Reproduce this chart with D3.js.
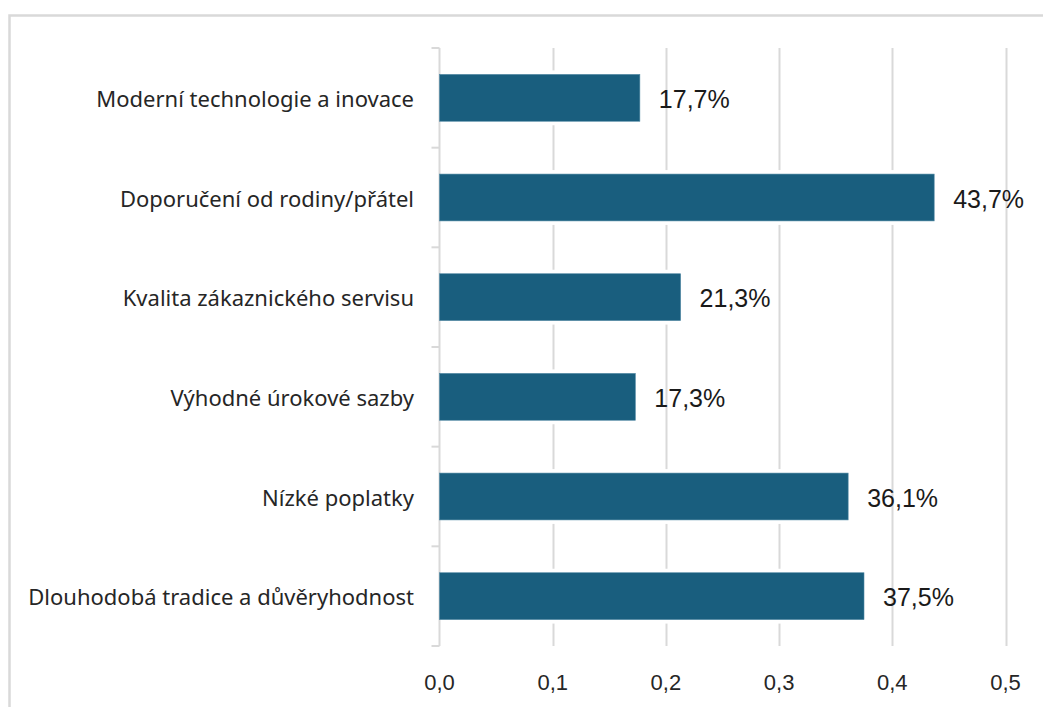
<!DOCTYPE html>
<html>
<head>
<meta charset="utf-8">
<script src="https://cdn.jsdelivr.net/npm/d3@7"></script>
<style>
  html, body { margin: 0; padding: 0; background: #ffffff; }
  svg { display: block; }
</style>
</head>
<body>
<svg id="chart" width="1043" height="707"></svg>
<script>
// Survey answers: share of respondents per factor (fraction of 1)
const categories = [
  "Moderní technologie a inovace",
  "Doporučení od rodiny/přátel",
  "Kvalita zákaznického servisu",
  "Výhodné úrokové sazby",
  "Nízké poplatky",
  "Dlouhodobá tradice a důvěryhodnost"
];
const values = [0.177, 0.437, 0.213, 0.173, 0.361, 0.375];
const valueLabels = ["17,7%", "43,7%", "21,3%", "17,3%", "36,1%", "37,5%"];
const xTicks = [0, 0.1, 0.2, 0.3, 0.4, 0.5];

const svg = d3.select("#chart");
const W = 1043, H = 707;
const plot = { left: 439.5, right: 1005.5, top: 48, bottom: 646 };

const barColor = "#195e7e";
const gridColor = "#d9d9d9";
const textColor = "#262626";

// Outer frame
svg.append("rect")
  .attr("x", 9.5).attr("y", 15.5)
  .attr("width", W + 10).attr("height", H + 10)
  .attr("fill", "none")
  .attr("stroke", "#d9d9d9")
  .attr("stroke-width", 2.5);

const x = d3.scaleLinear().domain([0, 0.5]).range([plot.left, plot.right]);
const y = d3.scaleBand()
  .domain(categories)
  .range([plot.top, plot.bottom])
  .paddingInner(0.53)
  .paddingOuter(0.265);

// Vertical gridlines
svg.append("g")
  .selectAll("line")
  .data(xTicks.slice(1))
  .join("line")
  .attr("x1", d => Math.round(x(d)) + 0.5)
  .attr("x2", d => Math.round(x(d)) + 0.5)
  .attr("y1", plot.top)
  .attr("y2", plot.bottom)
  .attr("stroke", gridColor)
  .attr("stroke-width", 2);

// White halo behind each bar (keeps a small gap between bars and gridlines)
svg.append("g")
  .selectAll("rect")
  .data(categories)
  .join("rect")
  .attr("x", plot.left + 2)
  .attr("y", d => y(d) - 4)
  .attr("width", (d, i) => x(values[i]) - plot.left + 2)
  .attr("height", y.bandwidth() + 8)
  .attr("fill", "#ffffff");

// Category axis line with tick marks on band boundaries
const step = y.step();
const boundaries = d3.range(categories.length + 1).map(k => plot.top + k * step);
const axisG = svg.append("g");
axisG.append("line")
  .attr("x1", plot.left).attr("x2", plot.left)
  .attr("y1", plot.top).attr("y2", plot.bottom)
  .attr("stroke", gridColor).attr("stroke-width", 2);
axisG.selectAll("line.tick")
  .data(boundaries)
  .join("line")
  .attr("class", "tick")
  .attr("x1", plot.left - 8).attr("x2", plot.left)
  .attr("y1", d => d).attr("y2", d => d)
  .attr("stroke", gridColor).attr("stroke-width", 2);

// Bars
svg.append("g")
  .selectAll("rect")
  .data(categories)
  .join("rect")
  .attr("x", x(0))
  .attr("y", d => y(d))
  .attr("width", (d, i) => x(values[i]) - x(0))
  .attr("height", y.bandwidth())
  .attr("fill", barColor)
  .attr("stroke", "#4f87a3")
  .attr("stroke-width", 0.6);

// Category labels
svg.append("g")
  .selectAll("text")
  .data(categories)
  .join("text")
  .attr("x", 414)
  .attr("y", d => y(d) + y.bandwidth() / 2)
  .attr("text-anchor", "end")
  .attr("dominant-baseline", "central")
  .attr("font-family", "'Noto Sans', sans-serif")
  .attr("font-size", 22)
  .attr("fill", textColor)
  .text(d => d);

// Value labels
svg.append("g")
  .selectAll("text")
  .data(categories)
  .join("text")
  .attr("x", (d, i) => x(values[i]) + 19)
  .attr("y", d => y(d) + y.bandwidth() / 2 + 1)
  .attr("dominant-baseline", "central")
  .attr("font-family", "'Liberation Sans', Arial, sans-serif")
  .attr("font-size", 25)
  .attr("fill", "#1a1a1a")
  .text((d, i) => valueLabels[i]);

// Value axis tick labels
const fmt = d => d3.format(".1f")(d).replace(".", ",");
svg.append("g")
  .selectAll("text")
  .data(xTicks)
  .join("text")
  .attr("x", d => x(d))
  .attr("y", 690)
  .attr("text-anchor", "middle")
  .attr("font-family", "'Liberation Sans', Arial, sans-serif")
  .attr("font-size", 22)
  .attr("fill", textColor)
  .text(fmt);
</script>
</body>
</html>
